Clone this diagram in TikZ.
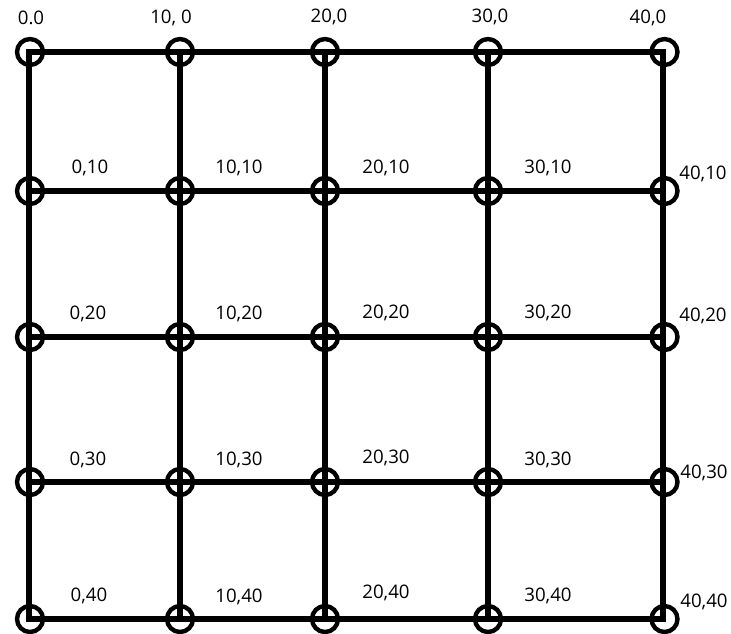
\documentclass[tikz,border=0pt]{standalone}
\usepackage{fontspec}
\setmainfont{Open Sans}
\begin{document}
\begin{tikzpicture}[x=0.75pt,y=-0.75pt,
  grid/.style={line width=3.8pt,line cap=rect},
  ring/.style={circle,draw,line width=3.3pt,minimum size=19.5pt,inner sep=0pt},
  lab/.style={inner sep=0pt,font=\fontsize{14}{16}\selectfont}]
\useasboundingbox (0,0) rectangle (731,633);
% grid positions
\foreach \i/\x in {0/29,1/180,2/325,3/488,4/663}{
  \foreach \j/\y in {0/52,1/191,2/337,3/482,4/619}{
    \coordinate (p\i\j) at (\x,\y);
  }
}
% grid lines
\foreach \j in {0,...,4}{ \draw[grid] (p0\j) -- (p4\j); }
\foreach \i in {0,...,4}{ \draw[grid] (p\i0) -- (p\i4); }
% rings
\foreach \i/\dx in {0/1,1/0,2/0,3/0,4/1.5}{
  \foreach \j in {0,...,4}{
    \node[ring] (n\i\j) at ([xshift=\dx*0.75pt]p\i\j) {};
  }
}
% labels row 0
\node[lab] (t00) at (31,18) {0.0};
\node[lab] (t10) at (171,18) {10, 0};
\node[lab] (t20) at (329,17) {20,0};
\node[lab] (t30) at (490,17) {30,0};
\node[lab] (t40) at (648,18) {40,0};
% row 1
\node[lab] (t01) at (90,168) {0,10};
\node[lab] (t11) at (239,168) {10,10};
\node[lab] (t21) at (386,168) {20,10};
\node[lab] (t31) at (548,168) {30,10};
\node[lab] (t41) at (703,174) {40,10};
% row 2
\node[lab] (t02) at (88,314) {0,20};
\node[lab] (t12) at (239,314) {10,20};
\node[lab] (t22) at (386,313) {20,20};
\node[lab] (t32) at (548,313) {30,20};
\node[lab] (t42) at (703,316) {40,20};
% row 3
\node[lab] (t03) at (88,460) {0,30};
\node[lab] (t13) at (239,460) {10,30};
\node[lab] (t23) at (386,458) {20,30};
\node[lab] (t33) at (548,460) {30,30};
\node[lab] (t43) at (704,473) {40,30};
% row 4
\node[lab] (t04) at (89,596) {0,40};
\node[lab] (t14) at (239,597) {10,40};
\node[lab] (t24) at (386,593) {20,40};
\node[lab] (t34) at (548,596) {30,40};
\node[lab] (t44) at (704,602) {40,40};
\end{tikzpicture}
\end{document}
